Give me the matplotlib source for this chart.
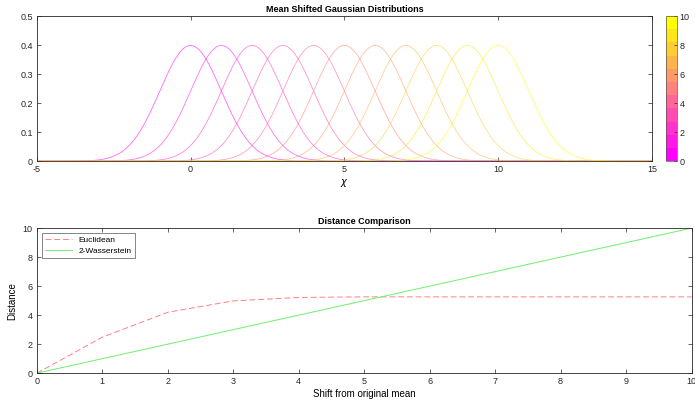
import numpy as np
import matplotlib.pyplot as plt
from matplotlib import colors, cm

plt.rcParams['font.family'] = ['Liberation Sans', 'DejaVu Sans']
plt.rcParams['font.size'] = 6.5
plt.rcParams['axes.edgecolor'] = '#262626'
plt.rcParams['axes.linewidth'] = 0.6
plt.rcParams['axes.unicode_minus'] = False

# Gaussian means (unit variance) and distances against the shift
means = [0, 1, 2, 3, 4, 5, 6, 7, 8, 9, 10]
sigma = 1.0
shifts = [0, 1, 2, 3, 4, 5, 6, 7, 8, 9, 10]
euclidean = [0, 2.48, 4.2, 4.98, 5.22, 5.26, 5.26, 5.26, 5.26, 5.26, 5.26]
wasserstein = [0, 1, 2, 3, 4, 5, 6, 7, 8, 9, 10]

x = np.linspace(-5, 15, 1001)
cmap = colors.ListedColormap(plt.cm.spring(np.linspace(0, 1, len(means))))
norm = colors.Normalize(vmin=0, vmax=10)

fig = plt.figure(figsize=(6.95, 4.03), dpi=100)
ax1 = fig.add_axes([0.053, 0.600, 0.885, 0.360])
cax = fig.add_axes([0.958, 0.600, 0.016, 0.360])
ax2 = fig.add_axes([0.053, 0.074, 0.942, 0.360])

for i, m in enumerate(means):
    pdf = np.exp(-0.5 * ((x - m) / sigma) ** 2) / (sigma * np.sqrt(2 * np.pi))
    ax1.plot(x, pdf, color=cmap(i), lw=0.6, alpha=0.6)

ax1.set_xlim(-5, 15)
ax1.set_ylim(0, 0.5)
ax1.set_xticks([-5, 0, 5, 10, 15])
ax1.set_yticks([0, 0.1, 0.2, 0.3, 0.4, 0.5])
ax1.set_yticklabels(['0', '0.1', '0.2', '0.3', '0.4', '0.5'])
ax1.set_title('Mean Shifted Gaussian Distributions', fontweight='bold', fontsize=6.5, pad=3)
ax1.set_xlabel(r'$\chi$', fontsize=7, labelpad=2)

sm = cm.ScalarMappable(norm=norm, cmap=cmap)
cb = fig.colorbar(sm, cax=cax, ticks=[0, 2, 4, 6, 8, 10])
cb.outline.set_edgecolor('#555555')
cb.outline.set_linewidth(0.5)
cax.tick_params(direction='in', length=2, width=0.5, labelsize=6.5, pad=2, colors='#262626')

ax2.plot(shifts, euclidean, color='#ff8080', lw=0.7, dashes=(6, 3), label='Euclidean')
ax2.plot(shifts, wasserstein, color='#70ee70', lw=0.7, label='2-Wasserstein')
ax2.set_xlim(0, 10)
ax2.set_ylim(0, 10)
ax2.set_xticks(range(0, 11))
ax2.set_yticks(range(0, 11, 2))
ax2.set_title('Distance Comparison', fontweight='bold', fontsize=6.5, pad=3)
ax2.set_xlabel('Shift from original mean', fontsize=7, labelpad=2)
ax2.set_ylabel('Distance', fontsize=7)
leg = ax2.legend(loc='upper left', fontsize=6, fancybox=False, edgecolor='#555555',
                 handlelength=3.2, borderaxespad=0.6, framealpha=1, labelspacing=0.3)
leg.get_frame().set_linewidth(0.5)

for ax in (ax1, ax2):
    ax.tick_params(direction='in', length=3, width=0.5, top=True, right=True, pad=3,
                   colors='#262626')

fig.savefig('out.png', dpi=100)
